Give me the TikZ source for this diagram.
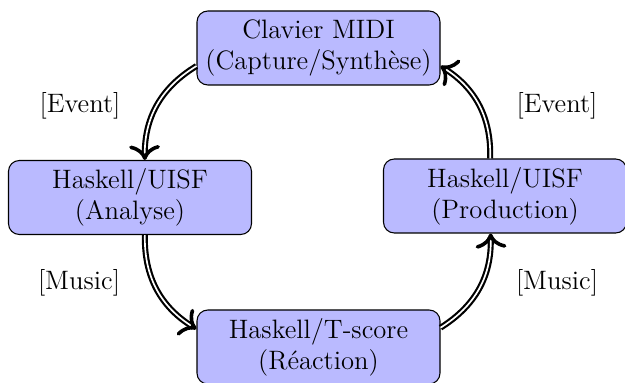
\documentclass[tikz,border=0pt]{standalone}
\usepackage{fontspec}
\usetikzlibrary{arrows.meta,decorations.markings}
\begin{document}
\begin{tikzpicture}[x=0.41667pt,y=0.41667pt,
  every node/.style={font=\fontsize{11.1}{13}\selectfont},
  box/.style={draw=black, line width=0.45pt, fill=blue!27, rounded corners=4.5pt, align=center,
    minimum width=243*0.41667pt, minimum height=74*0.41667pt, inner sep=3pt},
  arr/.style={double, line width=0.9pt, double distance=0.7pt, shorten >=1.5pt,
    postaction={decorate, decoration={markings, mark=at position 1 with
      {\pgfsetinnerlinewidth{0pt}\arrow[line width=1.5pt]{To[scale=1.25]}}}}},
  lbl/.style={inner sep=1pt}]
\useasboundingbox (0,0) rectangle (625,383);
\node[box] (top) at (318.5,335) {Clavier MIDI\\(Capture/Synthèse)};
\node[box] (left) at (130,185.5) {Haskell/UISF\\(Analyse)};
\node[box] (right) at (505,187) {Haskell/UISF\\(Production)};
\node[box] (bot) at (318.5,36) {Haskell/T-score\\(Réaction)};
\draw[arr] (top) to[bend right] (left);
\draw[arr] (left) to[bend right] (bot);
\draw[arr] (bot) to[bend right] (right);
\draw[arr] (right) to[bend right] (top);
\node[lbl] (l1) at (80,277) {[Event]};
\node[lbl] (l2) at (557,277) {[Event]};
\node[lbl] (l3) at (79,100) {[Music]};
\node[lbl] (l4) at (557,100) {[Music]};
\end{tikzpicture}
\end{document}
